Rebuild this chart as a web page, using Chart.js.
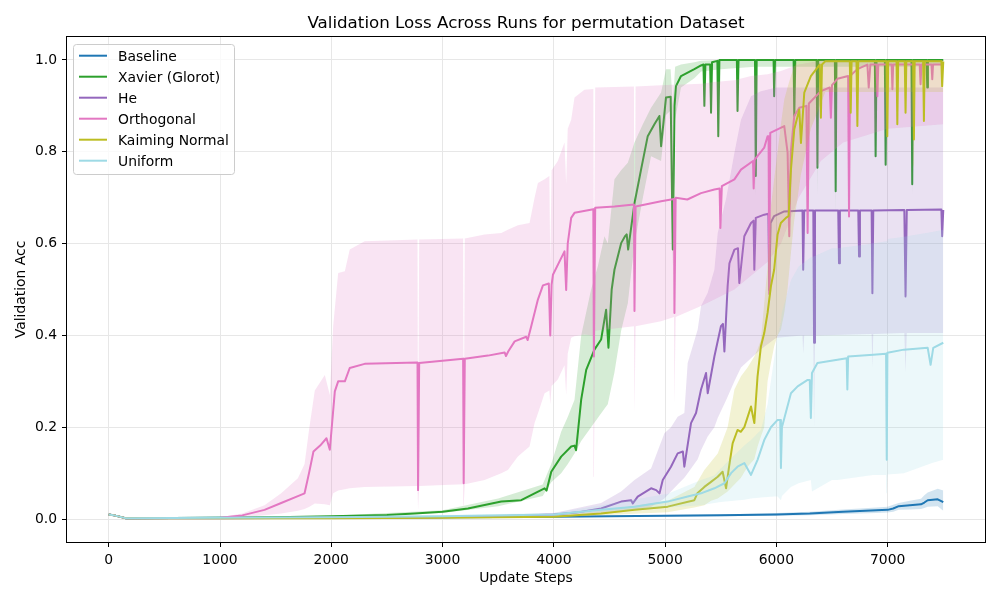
<!DOCTYPE html>
<html>
<head>
<meta charset="utf-8">
<title>Validation Loss Across Runs</title>
<script src="https://cdn.jsdelivr.net/npm/chart.js@4.4.1/dist/chart.umd.min.js"></script>
<style>
  body { margin: 0; background: #fff; }
  canvas { display: block; }
</style>
</head>
<body>
<canvas id="myChart" width="1000" height="600"></canvas>
<script>
// x = update step, y = validation acc (mean line + min/max band per init)

const xTicks = [0, 1000, 2000, 3000, 4000, 5000, 6000, 7000];
const yTicks = [0, 0.2, 0.4, 0.6, 0.8, 1.0];
const labels = ["Baseline", "Xavier (Glorot)", "He", "Orthogonal", "Kaiming Normal", "Uniform"];
const colors = ["#1f77b4", "#2ca02c", "#9467bd", "#e377c2", "#bcbd22", "#9edae5"];

// Baseline
const baseSteps = [0,50,150,1000,2000,3000,4000,5000,5500,6000,6300,6600,6900,7000,7050,7100,7200,7300,7330,7360,7450,7500];
const baseMean  = [0.010,0.008,0.002,0.003,0.003,0.004,0.005,0.007,0.008,0.010,0.012,0.016,0.019,0.020,0.023,0.028,0.030,0.032,0.036,0.041,0.043,0.037];
const baseBandSteps = baseSteps;
const baseLow   = [0.009,0.007,0.001,0.002,0.002,0.003,0.004,0.005,0.006,0.007,0.008,0.011,0.013,0.014,0.016,0.020,0.021,0.022,0.024,0.027,0.028,0.018];
const baseHigh  = [0.011,0.009,0.003,0.004,0.004,0.005,0.006,0.009,0.010,0.013,0.016,0.021,0.025,0.027,0.031,0.035,0.040,0.044,0.052,0.058,0.066,0.062];

// Xavier (Glorot)
const xavSteps = [0,50,150,1000,1500,2000,2500,2750,3000,3228,3528,3707,3827,3917,3935,3977,4066,4156,4186,4200,4246,4291,4365,4425,4470,4491,4520,4545,4605,4640,4655,4668,4725,4784,4844,4904,4949,4964,5008,5050,5069,5085,5098,5143,5263,5323,5345,5353,5362,5405,5413,5422,5470,5478,5488,5645,5651,5660,5808,5815,5823,5975,5980,5988,6155,6161,6170,6362,6369,6376,6526,6533,6540,6885,6892,6900,6975,6982,6990,7214,7221,7228,7350,7356,7362,7500];
const xavMean  = [0.010,0.008,0.002,0.003,0.004,0.006,0.009,0.012,0.016,0.023,0.038,0.041,0.056,0.067,0.062,0.103,0.136,0.158,0.16,0.15,0.26,0.325,0.369,0.391,0.456,0.373,0.50,0.543,0.601,0.616,0.62,0.587,0.688,0.761,0.834,0.86,0.878,0.812,0.918,0.92,0.587,0.90,0.943,0.965,0.98,0.988,0.99,0.90,0.99,0.99,0.885,0.995,0.998,0.834,1.0,1.0,0.889,1.0,1.0,0.747,1.0,1.0,0.921,1.0,1.0,0.878,1.0,1.0,0.765,1.0,1.0,0.714,1.0,1.0,0.79,1.0,1.0,0.772,1.0,1.0,0.729,1.0,1.0,0.94,1.0,1.0];
const xavBandSteps = [0,50,150,1000,2000,3000,3500,3900,3977,4066,4126,4186,4246,4335,4395,4455,4485,4545,4605,4665,4725,4800,4874,4964,5008,5050,5069,5090,5143,5263,5323,5500,5808,5815,5823,6362,6369,6376,6526,6533,6540,7214,7221,7228,7500];
const xavLow  = [0.009,0.007,0.001,0.002,0.005,0.013,0.028,0.05,0.08,0.10,0.12,0.143,0.17,0.20,0.22,0.24,0.25,0.32,0.41,0.47,0.60,0.70,0.79,0.78,0.88,0.89,0.55,0.87,0.94,0.96,0.975,0.98,0.985,0.70,0.985,0.985,0.70,0.985,0.985,0.66,0.985,0.985,0.70,0.985,0.99];
const xavHigh = [0.011,0.009,0.003,0.004,0.007,0.019,0.045,0.075,0.12,0.19,0.223,0.26,0.40,0.50,0.55,0.616,0.60,0.74,0.76,0.776,0.82,0.86,0.896,0.929,0.98,0.98,0.90,0.985,0.99,0.995,0.998,1.0,1.0,1.0,1.0,1.0,1.0,1.0,1.0,1.0,1.0,1.0,1.0,1.0,1.0];

// He
const heSteps = [0,50,150,1000,2000,3000,3500,4000,4200,4425,4605,4695,4710,4754,4874,4920,4950,4979,5053,5113,5160,5173,5233,5278,5323,5368,5383,5443,5502,5520,5533,5562,5578,5623,5655,5667,5712,5772,5795,5802,5815,5891,5928,5936,5948,5980,6071,6235,6241,6250,6332,6339,6347,6556,6563,6571,6736,6743,6751,6856,6863,6871,7150,7161,7172,7483,7490,7500];
const heMean  = [0.010,0.008,0.002,0.002,0.003,0.004,0.006,0.010,0.014,0.023,0.038,0.041,0.034,0.049,0.067,0.063,0.056,0.085,0.114,0.143,0.147,0.114,0.209,0.231,0.282,0.318,0.274,0.354,0.42,0.425,0.365,0.507,0.557,0.587,0.59,0.514,0.616,0.645,0.65,0.543,0.656,0.663,0.665,0.499,0.645,0.66,0.67,0.672,0.543,0.672,0.672,0.384,0.672,0.672,0.557,0.672,0.672,0.572,0.672,0.672,0.492,0.672,0.673,0.485,0.673,0.674,0.616,0.673];
const heBandSteps = [0,50,150,1000,2000,3000,4000,4425,4605,4725,4874,4994,5053,5113,5173,5203,5293,5323,5383,5443,5473,5550,5623,5682,5772,5861,6000,6235,6241,6250,6332,6339,6347,6856,6863,6871,7150,7161,7172,7500];
const heLow  = [0.009,0.007,0.001,0.001,0.002,0.003,0.008,0.012,0.015,0.02,0.027,0.045,0.06,0.075,0.09,0.1,0.13,0.15,0.18,0.2,0.22,0.26,0.3,0.33,0.35,0.37,0.395,0.40,0.36,0.40,0.40,0.20,0.40,0.403,0.33,0.403,0.405,0.32,0.405,0.405];
const heHigh = [0.011,0.009,0.003,0.003,0.004,0.005,0.013,0.035,0.06,0.085,0.11,0.187,0.2,0.223,0.231,0.34,0.413,0.464,0.493,0.543,0.623,0.70,0.798,0.87,0.921,0.932,0.94,0.94,0.94,0.94,0.94,0.94,0.94,0.94,0.94,0.94,0.94,0.94,0.94,0.94];

// Orthogonal
const orthoSteps = [0,50,150,1000,1200,1400,1550,1700,1760,1800,1840,1900,1957,1987,2032,2062,2122,2166,2300,2775,2780,2790,3185,3190,3200,3408,3558,3570,3590,3648,3752,3765,3797,3857,3902,3955,3968,3980,3992,4096,4111,4125,4156,4186,4355,4360,4372,4545,4720,4725,4735,4964,5080,5084,5095,5200,5323,5443,5490,5497,5510,5623,5682,5790,5796,5805,5891,5921,5930,5936,5945,6071,6101,6116,6130,6161,6206,6270,6281,6292,6400,6480,6490,6500,6549,6645,6653,6662,6728,6818,6830,6845,6900,6908,6916,7036,7043,7050,7288,7296,7304,7394,7401,7408,7500];
const orthoMean  = [0.010,0.008,0.002,0.003,0.008,0.020,0.035,0.050,0.056,0.10,0.147,0.16,0.176,0.151,0.278,0.30,0.30,0.329,0.338,0.341,0.063,0.34,0.349,0.078,0.349,0.356,0.363,0.355,0.365,0.387,0.397,0.39,0.42,0.478,0.509,0.513,0.40,0.51,0.532,0.583,0.499,0.60,0.656,0.667,0.675,0.354,0.678,0.681,0.685,0.453,0.681,0.692,0.697,0.449,0.70,0.696,0.71,0.718,0.72,0.634,0.725,0.74,0.761,0.78,0.72,0.783,0.809,0.834,0.834,0.49,0.841,0.856,0.798,0.616,0.80,0.878,0.896,0.90,0.623,0.905,0.932,0.94,0.874,0.945,0.959,0.965,0.659,0.965,0.98,0.99,0.94,0.99,0.99,0.921,0.99,0.99,0.936,0.99,0.99,0.947,0.99,0.99,0.958,0.99,0.99];
const orthoBandSteps = [0,50,150,1000,1200,1400,1550,1700,1760,1800,1852,1942,1987,2017,2062,2122,2166,2300,2775,2780,2790,3185,3190,3200,3378,3528,3587,3677,3782,3827,3857,3917,3960,3968,3980,4036,4096,4111,4125,4156,4186,4275,4355,4360,4372,4545,4720,4725,4735,4964,5080,5084,5095,5323,5443,5623,5772,5921,6041,6200,6400,6600,7000,7500];
const orthoLow  = [0.009,0.007,0.001,0.002,0.004,0.008,0.012,0.018,0.022,0.026,0.034,0.032,0.030,0.056,0.062,0.065,0.067,0.070,0.072,0.02,0.072,0.076,0.03,0.076,0.085,0.10,0.107,0.136,0.158,0.209,0.23,0.274,0.28,0.25,0.29,0.304,0.335,0.27,0.36,0.395,0.398,0.402,0.40,0.092,0.41,0.415,0.42,0.23,0.42,0.431,0.44,0.25,0.44,0.464,0.478,0.50,0.53,0.56,0.6,0.7,0.78,0.82,0.85,0.86];
const orthoHigh = [0.011,0.009,0.003,0.004,0.012,0.030,0.056,0.089,0.12,0.194,0.28,0.314,0.27,0.42,0.536,0.54,0.587,0.605,0.609,0.1,0.609,0.611,0.12,0.611,0.62,0.623,0.63,0.64,0.645,0.70,0.732,0.74,0.747,0.557,0.76,0.78,0.82,0.73,0.85,0.87,0.918,0.935,0.937,0.5,0.94,0.941,0.942,0.5,0.942,0.945,0.946,0.5,0.946,0.948,0.952,0.956,0.965,0.969,0.976,0.99,0.998,1.0,1.0,1.0];

// Kaiming Normal
const kaiSteps = [0,50,150,1000,2000,3000,4000,4425,4725,5023,5263,5290,5353,5413,5473,5517,5548,5575,5607,5651,5680,5712,5772,5802,5831,5861,5891,5921,5951,5980,6011,6040,6086,6110,6131,6161,6206,6221,6251,6310,6390,6400,6410,6440,6660,6668,6676,6720,6728,6736,6990,6997,7005,7080,7087,7095,7154,7161,7168,7229,7236,7243,7319,7326,7333,7483,7490,7500];
const kaiMean  = [0.010,0.008,0.002,0.002,0.002,0.003,0.005,0.012,0.020,0.027,0.041,0.056,0.070,0.081,0.092,0.103,0.067,0.114,0.165,0.194,0.19,0.20,0.245,0.209,0.311,0.376,0.405,0.449,0.507,0.543,0.62,0.645,0.656,0.66,0.761,0.849,0.892,0.819,0.929,0.965,0.99,0.874,0.99,0.997,0.997,0.885,0.997,0.997,0.856,0.997,0.997,0.834,0.997,0.997,0.86,0.997,0.997,0.885,0.997,0.997,0.827,0.997,0.997,0.867,0.997,0.997,0.943,0.997];
const kaiBandSteps = [0,50,150,1000,2000,3000,4000,4425,5023,5263,5353,5413,5473,5562,5623,5682,5741,5802,5831,5861,5891,5921,5951,5980,6011,6041,6071,6100,6131,6160,6191,6220,6310,6440,6990,6997,7005,7229,7236,7243,7500];
const kaiLow  = [0.009,0.007,0.001,0.001,0.001,0.002,0.003,0.008,0.015,0.025,0.03,0.04,0.045,0.06,0.075,0.09,0.114,0.13,0.158,0.18,0.2,0.3,0.34,0.376,0.40,0.413,0.45,0.5,0.58,0.65,0.7,0.75,0.85,0.93,0.93,0.76,0.93,0.93,0.77,0.93,0.93];
const kaiHigh = [0.011,0.009,0.003,0.003,0.003,0.004,0.007,0.018,0.04,0.07,0.107,0.125,0.143,0.2,0.282,0.311,0.33,0.354,0.37,0.39,0.47,0.55,0.68,0.74,0.8,0.86,0.914,0.94,0.965,0.985,1.0,1.0,1.0,1.0,1.0,1.0,1.0,1.0,1.0,1.0,1.0];

// Uniform
const uniSteps = [0,50,150,1000,2000,3000,4000,4425,4725,5023,5203,5323,5443,5533,5593,5651,5712,5772,5831,5891,5951,6011,6035,6041,6050,6131,6191,6281,6300,6310,6320,6369,6549,6632,6638,6645,6870,6986,6992,6998,7146,7360,7386,7410,7500];
const uniMean  = [0.010,0.008,0.002,0.003,0.004,0.006,0.010,0.020,0.027,0.038,0.049,0.056,0.067,0.078,0.10,0.114,0.122,0.096,0.129,0.172,0.20,0.216,0.216,0.111,0.20,0.274,0.289,0.303,0.303,0.22,0.318,0.34,0.347,0.35,0.282,0.354,0.358,0.36,0.129,0.362,0.369,0.373,0.336,0.373,0.384];
const uniBandSteps = [0,50,150,1000,2000,3000,4000,4425,5023,5323,5443,5500,5712,5772,5861,5921,5980,6011,6041,6050,6131,6200,6310,6320,6500,6549,6870,6986,6992,6998,7000,7146,7400,7500];
const uniLow  = [0.009,0.007,0.001,0.002,0.003,0.004,0.007,0.015,0.025,0.03,0.035,0.037,0.042,0.045,0.047,0.048,0.049,0.049,0.041,0.05,0.07,0.078,0.085,0.06,0.085,0.085,0.096,0.096,0.056,0.097,0.097,0.1,0.122,0.129];
const uniHigh = [0.011,0.009,0.003,0.004,0.006,0.009,0.013,0.03,0.055,0.085,0.095,0.11,0.16,0.172,0.194,0.25,0.35,0.40,0.43,0.45,0.52,0.55,0.57,0.57,0.59,0.59,0.60,0.605,0.605,0.605,0.61,0.615,0.625,0.63];

const series = [
  { steps: baseSteps, mean: baseMean, bandSteps: baseBandSteps, low: baseLow, high: baseHigh },
  { steps: xavSteps, mean: xavMean, bandSteps: xavBandSteps, low: xavLow, high: xavHigh },
  { steps: heSteps, mean: heMean, bandSteps: heBandSteps, low: heLow, high: heHigh },
  { steps: orthoSteps, mean: orthoMean, bandSteps: orthoBandSteps, low: orthoLow, high: orthoHigh },
  { steps: kaiSteps, mean: kaiMean, bandSteps: kaiBandSteps, low: kaiLow, high: kaiHigh },
  { steps: uniSteps, mean: uniMean, bandSteps: uniBandSteps, low: uniLow, high: uniHigh }
];

function pts(steps, vals) {
  return steps.map((s, i) => ({ x: s, y: vals[i] }));
}

function alpha(hex, a) {
  const r = parseInt(hex.slice(1, 3), 16);
  const g = parseInt(hex.slice(3, 5), 16);
  const b = parseInt(hex.slice(5, 7), 16);
  return `rgba(${r},${g},${b},${a})`;
}

// matplotlib order: band then line, later series on top
const datasets = [];
let drawIndex = 0;
series.forEach((s, i) => {
  datasets.push({
    label: labels[i] + " low",
    data: pts(s.bandSteps, s.low),
    borderWidth: 0,
    borderColor: "rgba(0,0,0,0)",
    fill: false,
    order: 100 - drawIndex++
  });
  datasets.push({
    label: labels[i] + " high",
    data: pts(s.bandSteps, s.high),
    borderWidth: 0,
    borderColor: "rgba(0,0,0,0)",
    backgroundColor: alpha(colors[i], 0.2),
    fill: "-1",
    order: 100 - drawIndex++
  });
  datasets.push({
    label: labels[i],
    data: pts(s.steps, s.mean),
    borderColor: colors[i],
    borderWidth: 2,
    borderJoinStyle: "round",
    fill: false,
    order: 100 - drawIndex++
  });
});

const FONT = "DejaVu Sans";

// title, axis labels, frame and legend are drawn like matplotlib does
const extras = {
  id: "extras",
  afterDraw(chart) {
    const ctx = chart.ctx;
    const a = chart.chartArea;
    ctx.save();

    ctx.strokeStyle = "#000";
    ctx.lineWidth = 1;
    ctx.strokeRect(66.5, 36.5, a.right - 66, a.bottom - 36);

    ctx.fillStyle = "#000";
    ctx.textAlign = "center";
    ctx.textBaseline = "middle";
    ctx.font = `16.7px "${FONT}"`;
    ctx.fillText("Validation Loss Across Runs for permutation Dataset", (a.left + a.right) / 2, 23.5);

    ctx.font = `13.9px "${FONT}"`;
    ctx.fillText("Update Steps", (a.left + a.right) / 2, 578);

    ctx.save();
    ctx.translate(21, (a.top + a.bottom) / 2);
    ctx.rotate(-Math.PI / 2);
    ctx.fillText("Validation Acc", 0, 0);
    ctx.restore();

    // legend box
    ctx.beginPath();
    ctx.roundRect(73.5, 44.5, 161, 130, 3);
    ctx.fillStyle = "rgba(255,255,255,0.8)";
    ctx.fill();
    ctx.strokeStyle = "#cccccc";
    ctx.stroke();

    ctx.textAlign = "left";
    labels.forEach((name, i) => {
      const y = 55.7 + i * 21;
      ctx.beginPath();
      ctx.moveTo(79, y);
      ctx.lineTo(107, y);
      ctx.strokeStyle = colors[i];
      ctx.lineWidth = 2;
      ctx.stroke();
      ctx.fillStyle = "#000";
      ctx.fillText(name, 118, y + 1.5);
    });

    ctx.restore();
  }
};

const ctx = document.getElementById("myChart").getContext("2d");
const myChart = new Chart(ctx, {
  type: "line",
  data: { datasets: datasets },
  options: {
    responsive: false,
    animation: false,
    layout: { padding: { top: 37, right: 15, left: 0, bottom: 0 } },
    elements: {
      point: { radius: 0, hoverRadius: 0 },
      line: { tension: 0 }
    },
    plugins: {
      legend: { display: false },
      tooltip: { enabled: false },
      title: { display: false }
    },
    scales: {
      x: {
        type: "linear",
        min: -375,
        max: 7875,
        afterBuildTicks: (scale) => { scale.ticks = xTicks.map(v => ({ value: v })); },
        afterFit: (scale) => { scale.height = 58; },
        grid: { color: "#e7e7e7", tickColor: "#000", tickLength: 5 },
        border: { display: false },
        ticks: {
          color: "#000",
          padding: 5,
          maxRotation: 0,
          font: { family: FONT, size: 13.9 },
          callback: (v) => String(v)
        }
      },
      y: {
        type: "linear",
        min: -0.05,
        max: 1.05,
        afterBuildTicks: (scale) => { scale.ticks = yTicks.map(v => ({ value: v })); },
        afterFit: (scale) => { scale.width = 67; },
        grid: { color: "#e7e7e7", tickColor: "#000", tickLength: 5 },
        border: { display: false },
        ticks: {
          color: "#000",
          padding: 5,
          font: { family: FONT, size: 13.9 },
          callback: (v) => v.toFixed(1)
        }
      }
    }
  },
  plugins: [extras]
});
</script>
</body>
</html>
